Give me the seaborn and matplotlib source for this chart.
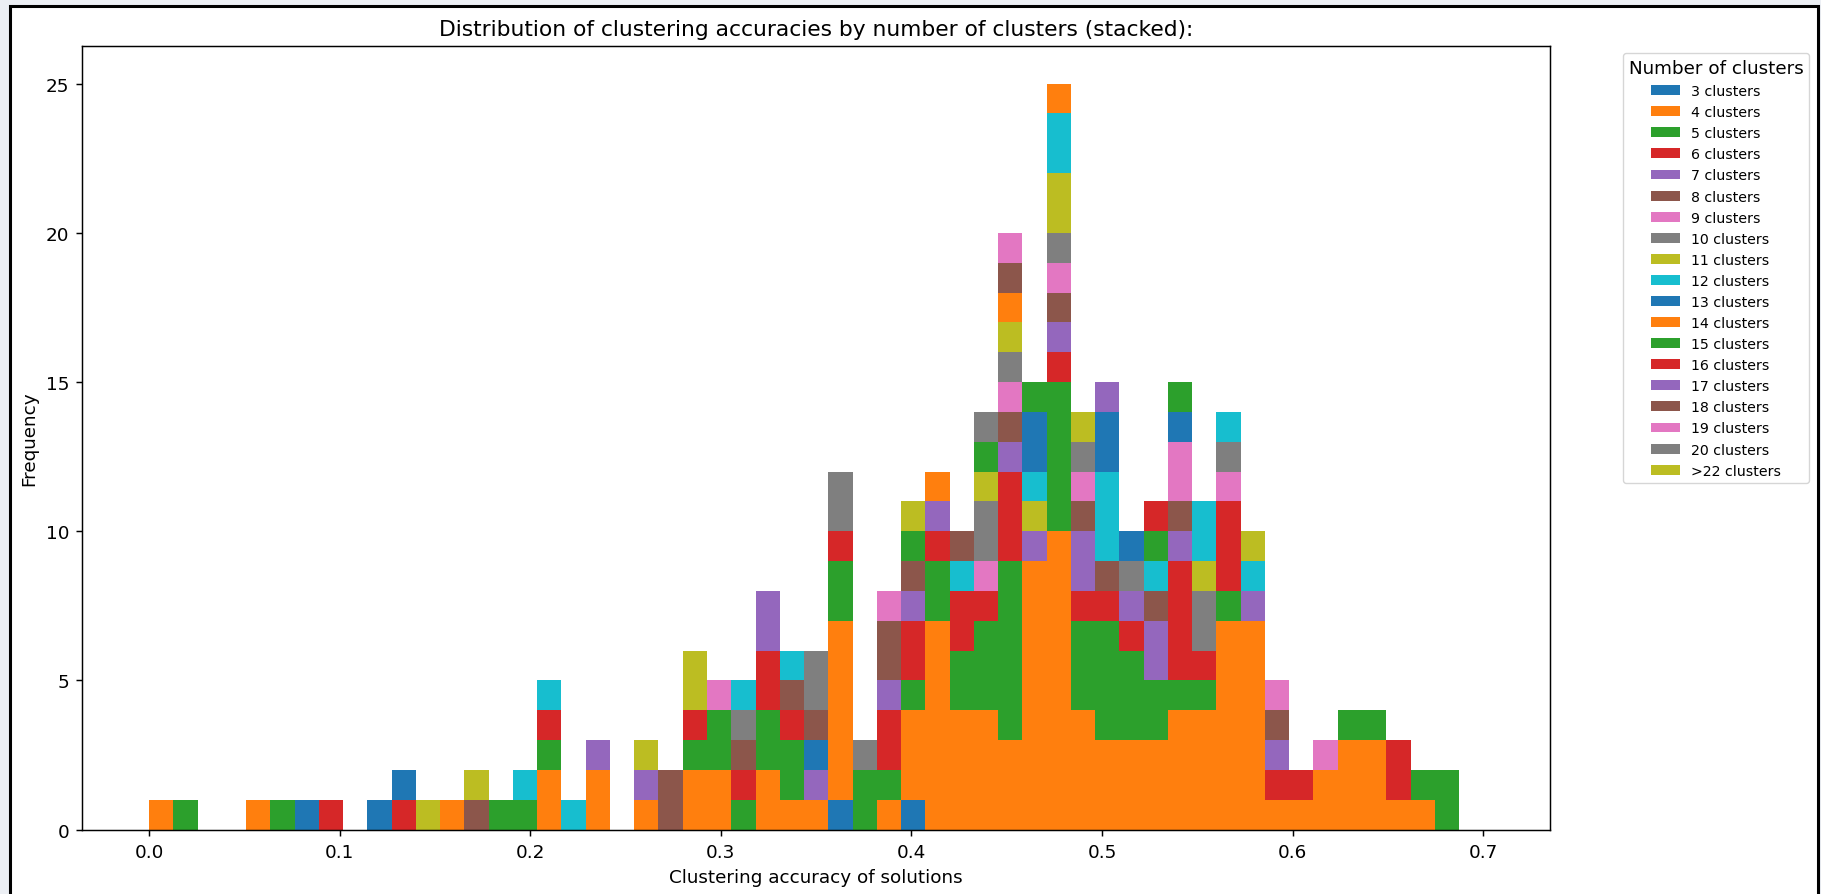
import numpy as np
import pandas as pd
import matplotlib
matplotlib.use("Agg")
import matplotlib.pyplot as plt
from matplotlib.patches import Patch, Rectangle
import seaborn as sns

# ---------------- data ----------------
series_labels = ["3 clusters", "4 clusters", "5 clusters", "6 clusters", "7 clusters",
                 "8 clusters", "9 clusters", "10 clusters", "11 clusters", "12 clusters",
                 "13 clusters", "14 clusters", "15 clusters", "16 clusters", "17 clusters",
                 "18 clusters", "19 clusters", "20 clusters", ">22 clusters"]

acc_03 = [0.083, 0.121, 0.363, 0.401]
cnt_03 = [1, 1, 1, 1]
acc_04 = [0.006, 0.057, 0.159, 0.210, 0.235, 0.261, 0.286, 0.299, 0.325, 0.337, 0.350, 0.363,
          0.388, 0.401, 0.414, 0.426, 0.439, 0.452, 0.465, 0.477, 0.490, 0.503, 0.515, 0.528,
          0.541, 0.554, 0.566, 0.579, 0.592, 0.605, 0.617, 0.630, 0.643, 0.655, 0.668]
cnt_04 = [1, 1, 1, 2, 2, 1, 2, 2, 2, 1, 1, 6,
          1, 3, 7, 4, 4, 3, 9, 10, 4, 3, 3, 3,
          4, 4, 7, 7, 1, 1, 2, 3, 3, 1, 1]
acc_05 = [0.019, 0.070, 0.185, 0.197, 0.210, 0.286, 0.299, 0.312, 0.325, 0.337, 0.363, 0.375,
          0.388, 0.401, 0.414, 0.426, 0.439, 0.452, 0.477, 0.490, 0.503, 0.515, 0.528, 0.541,
          0.554, 0.566, 0.630, 0.643, 0.668, 0.681]
cnt_05 = [1, 1, 1, 1, 1, 1, 2, 1, 2, 2, 2, 2,
          1, 1, 2, 2, 3, 6, 5, 3, 4, 3, 2, 1,
          1, 1, 1, 1, 1, 2]
acc_06 = [0.095, 0.134, 0.210, 0.286, 0.312, 0.325, 0.337, 0.363, 0.388, 0.401, 0.414, 0.426,
          0.439, 0.452, 0.477, 0.490, 0.503, 0.515, 0.541, 0.554, 0.566, 0.592, 0.605, 0.655]
cnt_06 = [1, 1, 1, 1, 1, 2, 1, 1, 2, 2, 1, 2,
          1, 3, 1, 1, 1, 1, 4, 1, 3, 1, 1, 2]
acc_07 = [0.235, 0.261, 0.325, 0.350, 0.388, 0.401, 0.414, 0.452, 0.465, 0.477, 0.490, 0.515,
          0.528, 0.541, 0.579, 0.592]
cnt_07 = [1, 1, 2, 1, 1, 1, 1, 1, 1, 1, 2, 1, 2, 1, 1, 1]
acc_08 = [0.172, 0.274, 0.312, 0.337, 0.388, 0.401, 0.452, 0.477, 0.490, 0.503, 0.528, 0.541, 0.592]
cnt_08 = [1, 2, 1, 1, 2, 1, 1, 1, 1, 1, 1, 1, 1]
acc_09 = [0.299, 0.388, 0.439, 0.452, 0.477, 0.490, 0.541, 0.566, 0.592, 0.617]
cnt_09 = [1, 1, 1, 1, 1, 1, 2, 1, 1, 1]
acc_10 = [0.312, 0.363, 0.375, 0.439, 0.452, 0.477, 0.490, 0.515, 0.554, 0.566]
cnt_10 = [1, 2, 1, 2, 1, 1, 1, 1, 2, 1]
acc_11 = [0.146, 0.172, 0.261, 0.286, 0.439, 0.452, 0.465, 0.477, 0.490, 0.554]
cnt_11 = [1, 1, 1, 1, 1, 1, 1, 2, 1, 1]
acc_12 = [0.197, 0.210, 0.223, 0.312, 0.337, 0.426, 0.465, 0.477, 0.503, 0.528, 0.554, 0.566, 0.579]
cnt_12 = [1, 1, 1, 1, 1, 1, 1, 2, 3, 1, 2, 1, 1]
acc_13 = [0.134, 0.350, 0.465, 0.503, 0.515, 0.541]
cnt_13 = [1, 1, 2, 2, 1, 1]
acc_14 = [0.414, 0.452, 0.477]
cnt_14 = [1, 1, 1]
acc_15 = [0.401, 0.439, 0.465, 0.528, 0.541]
cnt_15 = [1, 1, 1, 1, 1]
acc_16 = [0.528]
cnt_16 = [1]
acc_17 = [0.503]
cnt_17 = [1]
acc_18 = [0.350, 0.426, 0.452]
cnt_18 = [1, 1, 1]
acc_19 = [0.452]
cnt_19 = [1]
acc_20 = [0.350, 0.439]
cnt_20 = [2, 1]
acc_22 = [0.286, 0.401, 0.579]
cnt_22 = [1, 1, 1]

# ---------------- assemble long-form table ----------------
all_acc = [acc_03, acc_04, acc_05, acc_06, acc_07, acc_08, acc_09, acc_10, acc_11, acc_12,
           acc_13, acc_14, acc_15, acc_16, acc_17, acc_18, acc_19, acc_20, acc_22]
all_cnt = [cnt_03, cnt_04, cnt_05, cnt_06, cnt_07, cnt_08, cnt_09, cnt_10, cnt_11, cnt_12,
           cnt_13, cnt_14, cnt_15, cnt_16, cnt_17, cnt_18, cnt_19, cnt_20, cnt_22]
rows = []
for lab, accs, cnts in zip(series_labels, all_acc, all_cnt):
    for a, c in zip(accs, cnts):
        rows.append((lab, a, c))
df = pd.DataFrame(rows, columns=["clusters", "accuracy", "frequency"])

tab10 = sns.color_palette("tab10", 10)
colors = [tab10[i % 10] for i in range(len(series_labels))]
palette = dict(zip(series_labels, colors))

# ---------------- figure ----------------
S = 1.32
fig = plt.figure(figsize=(18.21, 8.95), dpi=100)
fig.patch.set_facecolor("#eceff4")
fig.add_artist(Rectangle((10 / 1821, -0.02), (1818 - 10) / 1821, 1 - 7 / 895 + 0.02,
                         transform=fig.transFigure, facecolor="white",
                         edgecolor="black", linewidth=2.2, zorder=-5))
ax = fig.add_axes([82.3 / 1821, 1 - 830.7 / 895, (1550 - 82.3) / 1821, (830.7 - 47.3) / 895])

# seaborn stacks the last hue level at the bottom, so pass the order reversed
sns.histplot(data=df, x="accuracy", weights="frequency", hue="clusters",
             hue_order=series_labels[::-1], palette=palette, bins=55, binrange=(0.0, 0.70),
             multiple="stack", element="bars", linewidth=0, alpha=1.0,
             legend=False, ax=ax)

ax.set_xlim(-0.035, 0.735)
ax.set_ylim(0, 26.25)
ax.set_xticks(np.arange(0, 0.71, 0.1))
ax.set_xticklabels([f"{v:.1f}" for v in np.arange(0, 0.71, 0.1)])
ax.set_yticks([0, 5, 10, 15, 20, 25])
ax.tick_params(labelsize=10 * S, length=3.5 * S, width=0.8 * S, pad=3.5 * S)
for sp in ax.spines.values():
    sp.set_linewidth(0.8 * S)
ax.set_title("Distribution of clustering accuracies by number of clusters (stacked):",
             fontsize=15.65, pad=6 * S)
ax.set_xlabel("Clustering accuracy of solutions", fontsize=10 * S, labelpad=4 * S)
ax.set_ylabel("Frequency", fontsize=10 * S, labelpad=4 * S)

handles = [Patch(facecolor=c, edgecolor="none") for c in colors]
ax.legend(handles, series_labels, title="Number of clusters", loc="upper left",
          bbox_to_anchor=(1.045, 1), fontsize=10.2, title_fontsize=10 * S)

fig.savefig("out.png", dpi=100, facecolor=fig.get_facecolor())
